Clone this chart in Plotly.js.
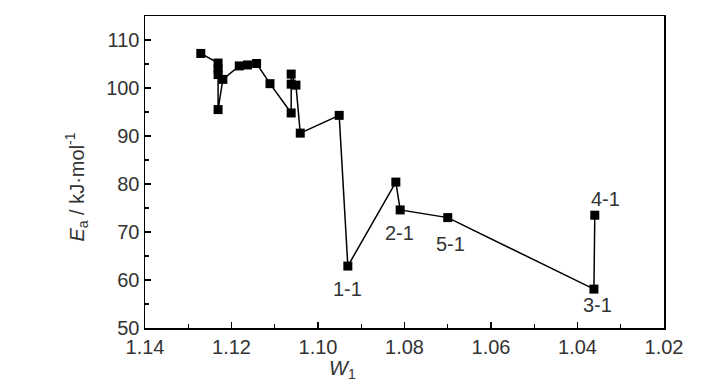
<!DOCTYPE html>
<html>
<head>
<meta charset="utf-8">
<script src="https://cdn.plot.ly/plotly-3.0.1.min.js"></script>
<style>
html,body{margin:0;padding:0;background:#fff;}
#chart{width:728px;height:390px;}
</style>
</head>
<body>
<div id="chart"></div>
<script>
// W1 values (x) and activation energy Ea (y), in plotted order
const w1 = [1.1271, 1.1231, 1.1231, 1.1231, 1.1231, 1.1220, 1.1182, 1.1163, 1.1142, 1.1111,
            1.1062, 1.1062, 1.1062, 1.1051, 1.1041, 1.0951, 1.0931, 1.0820, 1.0810, 1.0700,
            1.0362, 1.0360];
const ea = [107.2, 105.2, 104.0, 102.8, 95.5, 101.8, 104.6, 104.8, 105.1, 100.9,
            94.8, 100.8, 102.9, 100.6, 90.6, 94.3, 62.9, 80.4, 74.6, 73.0,
            58.1, 73.5];
// labelled samples
const labelText = ["1-1", "2-1", "5-1", "3-1", "4-1"];
const labelIndex = [16, 18, 19, 20, 21];
const labelShift = [[0, -23], [-1, -23], [3, -26], [4, -16], [11, 16]];

const xTicks = [1.14, 1.12, 1.10, 1.08, 1.06, 1.04, 1.02];
const xTickText = ["1.14", "1.12", "1.10", "1.08", "1.06", "1.04", "1.02"];
const yTicks = [50, 60, 70, 80, 90, 100, 110];

const FONT = "'Liberation Sans', Arial, sans-serif";
const TXT = "#333333";

const annotations = labelText.map((t, k) => ({
  x: w1[labelIndex[k]], y: ea[labelIndex[k]], xref: "x", yref: "y",
  text: t, showarrow: false, xshift: labelShift[k][0], yshift: labelShift[k][1],
  font: {family: FONT, size: 20, color: TXT}
}));
annotations.push({
  xref: "paper", yref: "paper", x: 0.38, y: -0.085, yanchor: "top",
  text: "<i>W</i><sub>1</sub>", showarrow: false,
  font: {family: FONT, size: 20, color: TXT}
});
annotations.push({
  xref: "paper", yref: "paper", x: -0.131, y: 0.45, xanchor: "center",
  text: "<i>E</i><sub>a</sub> / kJ·mol<sup>-1</sup>", showarrow: false, textangle: -90,
  font: {family: FONT, size: 20, color: TXT}
});

const trace = {
  x: w1, y: ea, type: "scatter", mode: "lines+markers",
  line: {color: "#000", width: 1.5},
  marker: {symbol: "square", size: 9, color: "#000"},
  hoverinfo: "skip"
};

const layout = {
  width: 728, height: 390,
  margin: {l: 145, r: 64, t: 16, b: 62},
  paper_bgcolor: "#fff", plot_bgcolor: "#fff",
  showlegend: false,
  xaxis: {
    range: [1.14, 1.02], tickvals: xTicks, ticktext: xTickText,
    ticks: "inside", ticklen: 6, tickwidth: 1.2, tickcolor: "#000",
    minor: {dtick: 0.01, tick0: 1.14, ticks: "inside", ticklen: 4, tickwidth: 1.2, tickcolor: "#000"},
    showline: true, linecolor: "#000", linewidth: 1.5, mirror: true,
    showgrid: false, zeroline: false,
    tickfont: {family: FONT, size: 20, color: TXT}
  },
  yaxis: {
    range: [50, 115], tickvals: yTicks,
    ticks: "inside", ticklen: 6, tickwidth: 1.2, tickcolor: "#000",
    minor: {dtick: 5, tick0: 50, ticks: "inside", ticklen: 4, tickwidth: 1.2, tickcolor: "#000"},
    showline: true, linecolor: "#000", linewidth: 1.5, mirror: true,
    showgrid: false, zeroline: false,
    tickfont: {family: FONT, size: 20, color: TXT}
  },
  annotations: annotations
};

Plotly.newPlot("chart", [trace], layout, {staticPlot: true, displayModeBar: false});
</script>
</body>
</html>
